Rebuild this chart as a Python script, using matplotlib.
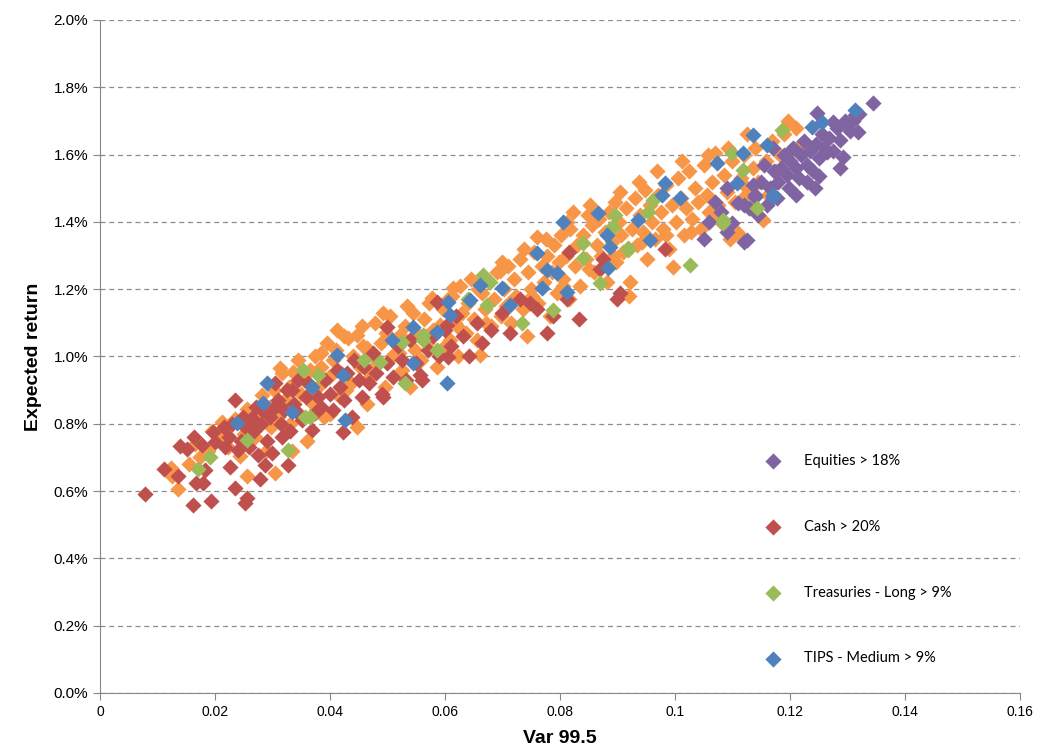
import matplotlib.pyplot as plt
from matplotlib.ticker import FuncFormatter

# Var 99.5 (x) and expected return in % (y)
others = [
    (0.0123, 0.67), (0.0125, 0.645), (0.0136, 0.605), (0.0155, 0.68), (0.0174, 0.70), (0.0165, 0.74), (0.0188, 0.72), (0.0195, 0.78),
    (0.0209, 0.76), (0.0212, 0.805), (0.0222, 0.73), (0.0235, 0.815), (0.0243, 0.705), (0.0250, 0.77), (0.0256, 0.845), (0.0256, 0.645),
    (0.0262, 0.80), (0.0270, 0.76), (0.0278, 0.83), (0.0282, 0.885), (0.0288, 0.72), (0.0295, 0.85), (0.0298, 0.79),
    (0.0302, 0.90), (0.0304, 0.655), (0.0310, 0.82), (0.0313, 0.965), (0.0317, 0.95), (0.0322, 0.87), (0.0328, 0.91), (0.0334, 0.72),
    (0.0336, 0.955), (0.0340, 0.84), (0.0345, 0.99), (0.0350, 0.89), (0.0355, 0.93), (0.0360, 0.75), (0.0365, 0.96), (0.0370, 0.86),
    (0.0374, 1.00), (0.0380, 0.91), (0.0385, 0.97), (0.0390, 0.82), (0.0395, 1.04), (0.0398, 0.94),
    (0.0400, 0.83), (0.0405, 0.99), (0.0410, 1.02), (0.0417, 0.88), (0.0420, 0.95), (0.0425, 1.06), (0.0431, 1.055), (0.0436, 0.92),
    (0.0440, 1.00), (0.0447, 1.065), (0.0447, 0.79), (0.0452, 0.97), (0.0458, 1.03), (0.0464, 1.025), (0.0464, 0.86), (0.0470, 0.94),
    (0.0478, 1.10), (0.0482, 0.99), (0.0488, 1.04), (0.0495, 0.91), (0.0498, 1.07),
    (0.0504, 1.12), (0.0508, 1.00), (0.0515, 1.05), (0.0522, 1.065), (0.0526, 0.96), (0.0530, 1.09), (0.0539, 0.91), (0.0544, 1.13),
    (0.0548, 1.02), (0.0552, 1.07), (0.0558, 0.99), (0.0563, 1.11), (0.0568, 1.04), (0.0577, 1.175), (0.0580, 1.08), (0.0586, 0.97),
    (0.0591, 1.095), (0.0596, 1.14),
    (0.0600, 1.03), (0.0605, 1.17), (0.0609, 1.05), (0.0614, 1.205), (0.0618, 1.10), (0.0622, 1.00), (0.0626, 1.21), (0.0630, 1.13),
    (0.0636, 1.07), (0.0640, 1.16), (0.0645, 1.23), (0.0650, 1.11), (0.0655, 1.05), (0.0661, 1.005), (0.0665, 1.19), (0.0670, 1.14),
    (0.0676, 1.22), (0.0680, 1.09), (0.0686, 1.17), (0.0690, 1.25), (0.0696, 1.255), (0.0698, 1.12),
    (0.0702, 1.20), (0.0706, 1.15), (0.0710, 1.27), (0.0715, 1.10), (0.0720, 1.23), (0.0724, 1.18), (0.0730, 1.29), (0.0735, 1.14),
    (0.0742, 1.06), (0.0745, 1.25), (0.0750, 1.20), (0.0755, 1.31), (0.0760, 1.355), (0.0762, 1.16), (0.0768, 1.27), (0.0772, 1.22),
    (0.0778, 1.30), (0.0782, 1.12), (0.0786, 1.25), (0.0790, 1.33), (0.0795, 1.19), (0.0798, 1.28),
    (0.0802, 1.36), (0.0806, 1.23), (0.0810, 1.30), (0.0815, 1.17), (0.0818, 1.38), (0.0823, 1.43), (0.0826, 1.27), (0.0830, 1.33),
    (0.0835, 1.21), (0.0840, 1.36), (0.0845, 1.29), (0.0852, 1.45), (0.0855, 1.39), (0.0860, 1.25), (0.0864, 1.33), (0.0868, 1.41),
    (0.0872, 1.30), (0.0878, 1.37), (0.0882, 1.22), (0.0886, 1.43), (0.0890, 1.34), (0.0896, 1.46), (0.0898, 1.28),
    (0.0902, 1.40), (0.0906, 1.36), (0.0910, 1.31), (0.0915, 1.44), (0.0920, 1.18), (0.0922, 1.22), (0.0926, 1.38), (0.0930, 1.47),
    (0.0934, 1.33), (0.0940, 1.42), (0.0945, 1.37), (0.0948, 1.495), (0.0952, 1.29), (0.0956, 1.45), (0.0960, 1.40), (0.0965, 1.35),
    (0.0970, 1.48), (0.0975, 1.43), (0.0980, 1.38), (0.0985, 1.51), (0.0990, 1.32), (0.0997, 1.265), (0.0995, 1.45),
    (0.1002, 1.40), (0.1006, 1.53), (0.1010, 1.47), (0.1015, 1.36), (0.1020, 1.44), (0.1025, 1.55), (0.1030, 1.41), (0.1035, 1.50),
    (0.1040, 1.46), (0.1045, 1.38), (0.1050, 1.57), (0.1055, 1.48), (0.1060, 1.43), (0.1065, 1.52), (0.1070, 1.605), (0.1075, 1.45),
    (0.1080, 1.40), (0.1085, 1.54), (0.1090, 1.49), (0.1095, 1.35),
    (0.1100, 1.58), (0.1105, 1.46), (0.1110, 1.367), (0.1115, 1.53), (0.1120, 1.60), (0.1125, 1.50), (0.1130, 1.44), (0.1135, 1.56),
    (0.1140, 1.62), (0.1145, 1.52), (0.1153, 1.406), (0.1158, 1.58), (0.1162, 1.48), (0.1168, 1.64), (0.1175, 1.55), (0.1182, 1.60),
    (0.1190, 1.66), (0.1197, 1.70), (0.1200, 1.61), (0.1210, 1.68), (0.1220, 1.63),
    (0.0385, 1.01), (0.0412, 1.08), (0.0455, 1.09), (0.0492, 1.13), (0.0534, 1.15), (0.0572, 1.16), (0.0612, 1.18),
    (0.0658, 1.20), (0.0700, 1.28), (0.0738, 1.32), (0.0775, 1.35), (0.0812, 1.40), (0.0848, 1.42), (0.0905, 1.49),
    (0.0938, 1.52), (0.0968, 1.55), (0.1012, 1.58), (0.1058, 1.60), (0.1092, 1.62), (0.1125, 1.66),
    (0.0330, 0.80), (0.0375, 0.84), (0.0428, 0.90), (0.0472, 0.96), (0.0520, 1.01), (0.0565, 1.06), (0.0628, 1.08),
    (0.0672, 1.10), (0.0712, 1.16), (0.0752, 1.18), (0.0805, 1.21), (0.0850, 1.26), (0.0892, 1.30), (0.0942, 1.34),
    (0.0985, 1.36), (0.1028, 1.37), (0.1072, 1.42), (0.1118, 1.47),
]

equities = [
    (0.1344, 1.753), (0.1313, 1.718), (0.1318, 1.667), (0.1287, 1.643), (0.1247, 1.724), (0.1292, 1.593), (0.1287, 1.560),
    (0.1275, 1.697), (0.1300, 1.69), (0.1243, 1.501), (0.1264, 1.608), (0.1160, 1.45), (0.1125, 1.346), (0.1090, 1.37),
    (0.1100, 1.397), (0.1120, 1.45), (0.1140, 1.48), (0.1120, 1.34), (0.1140, 1.474), (0.1110, 1.456), (0.1090, 1.50),
    (0.1170, 1.62), (0.1180, 1.52), (0.1185, 1.56), (0.1190, 1.60), (0.1195, 1.54), (0.1200, 1.58), (0.1205, 1.62),
    (0.1210, 1.56), (0.1215, 1.53), (0.1220, 1.60), (0.1225, 1.64), (0.1230, 1.57), (0.1235, 1.61), (0.1240, 1.55),
    (0.1245, 1.63), (0.1250, 1.59), (0.1255, 1.66), (0.1260, 1.62), (0.1268, 1.65), (0.1275, 1.61), (0.1282, 1.68),
    (0.1295, 1.70), (0.1305, 1.67), (0.1310, 1.70), (0.1320, 1.72), (0.1150, 1.52), (0.1155, 1.57), (0.1165, 1.50),
    (0.1172, 1.55), (0.1135, 1.51), (0.1128, 1.44), (0.1145, 1.42), (0.1178, 1.47), (0.1198, 1.50), (0.1210, 1.48),
    (0.1230, 1.52), (0.1250, 1.535), (0.1080, 1.43), (0.1060, 1.40), (0.1070, 1.46), (0.1050, 1.35),
]

cash = [
    (0.0078, 0.591), (0.0111, 0.666), (0.0136, 0.645), (0.0139, 0.734), (0.0151, 0.725), (0.0163, 0.761), (0.0177, 0.737),
    (0.0162, 0.559), (0.0193, 0.571), (0.0167, 0.624), (0.0180, 0.624), (0.0183, 0.663), (0.0197, 0.776), (0.0200, 0.746),
    (0.0226, 0.672), (0.0235, 0.609), (0.0256, 0.579), (0.0252, 0.565), (0.0235, 0.871), (0.0278, 0.636), (0.0252, 0.790),
    (0.0275, 0.707), (0.0287, 0.678), (0.0299, 0.713), (0.0264, 0.817), (0.0282, 0.841), (0.0317, 0.761), (0.0327, 0.678),
    (0.0304, 0.850), (0.0345, 0.832), (0.0334, 0.900), (0.0374, 0.832), (0.0368, 0.782), (0.0379, 0.880), (0.0304, 0.921),
    (0.0345, 0.930), (0.0217, 0.731), (0.0240, 0.722),
    (0.0215, 0.79), (0.0225, 0.76), (0.0230, 0.80), (0.0245, 0.75), (0.0248, 0.82), (0.0260, 0.73), (0.0268, 0.78),
    (0.0272, 0.85), (0.0280, 0.80), (0.0290, 0.75), (0.0295, 0.82), (0.0310, 0.87), (0.0315, 0.80), (0.0320, 0.84),
    (0.0325, 0.90), (0.0330, 0.78), (0.0338, 0.86), (0.0352, 0.81), (0.0358, 0.88), (0.0362, 0.92), (0.0385, 0.85),
    (0.0392, 0.93), (0.0400, 0.89), (0.0405, 0.84), (0.0412, 0.96), (0.0418, 0.91), (0.0425, 0.87), (0.0430, 0.95),
    (0.0438, 0.82), (0.0442, 0.99), (0.0450, 0.93), (0.0455, 0.88), (0.0460, 0.97), (0.0468, 0.92), (0.0475, 1.01),
    (0.0480, 0.95), (0.0490, 0.89), (0.0500, 0.98), (0.0510, 0.94), (0.0518, 1.03), (0.0525, 0.99), (0.0532, 0.93),
    (0.0540, 1.05), (0.0550, 0.98), (0.0560, 0.93), (0.0570, 1.02), (0.0580, 1.06), (0.0590, 1.00), (0.0600, 1.08),
    (0.0610, 1.03), (0.0620, 1.12), (0.0632, 1.06), (0.0642, 1.00), (0.0655, 1.10), (0.0665, 1.04), (0.0680, 1.08),
    (0.0700, 1.13), (0.0713, 1.07), (0.0730, 1.17), (0.0748, 1.16), (0.0760, 1.14), (0.0777, 1.07), (0.0788, 1.12),
    (0.0812, 1.17), (0.0815, 1.31), (0.0833, 1.11), (0.0870, 1.26), (0.0875, 1.29), (0.0900, 1.17), (0.0905, 1.19),
    (0.0983, 1.32), (0.0499, 1.088), (0.0586, 1.162), (0.0603, 1.094), (0.0605, 0.999), (0.0557, 0.945), (0.0492, 0.88),
    (0.0423, 0.776),
]

treasuries = [
    (0.0191, 0.701), (0.0170, 0.666), (0.0256, 0.752), (0.0327, 0.722), (0.0357, 0.820), (0.0379, 0.945), (0.0353, 0.96),
    (0.0487, 0.984), (0.0525, 1.043), (0.0562, 1.064), (0.0586, 1.019), (0.0530, 0.921), (0.0365, 0.82), (0.0666, 1.242),
    (0.0678, 1.221), (0.0673, 1.153), (0.0734, 1.10), (0.0788, 1.138), (0.0840, 1.337), (0.0840, 1.293), (0.0870, 1.218),
    (0.0890, 1.385), (0.0896, 1.42), (0.0918, 1.316), (0.0562, 1.049), (0.1100, 1.605), (0.1186, 1.673), (0.0962, 1.465),
    (0.0892, 1.385), (0.0953, 1.43), (0.1026, 1.272), (0.1083, 1.406), (0.1118, 1.554), (0.1143, 1.44), (0.0918, 1.322),
    (0.1083, 1.397), (0.0460, 0.99), (0.0640, 1.17),
]

tips = [
    (0.0290, 0.921), (0.0284, 0.862), (0.0238, 0.802), (0.0334, 0.835), (0.0368, 0.909), (0.0412, 1.004), (0.0423, 0.945),
    (0.0508, 1.049), (0.0544, 1.088), (0.0586, 1.073), (0.0605, 1.162), (0.0544, 0.981), (0.0603, 0.921), (0.0426, 0.811),
    (0.0805, 1.40), (0.0760, 1.308), (0.0777, 1.257), (0.0795, 1.248), (0.0866, 1.426), (0.0882, 1.361), (0.0887, 1.325),
    (0.0884, 1.263), (0.0769, 1.203), (0.0699, 1.203), (0.0661, 1.212), (0.0713, 1.153), (0.0643, 1.167), (0.0609, 1.123),
    (0.0812, 1.192), (0.1136, 1.658), (0.1118, 1.605), (0.1073, 1.575), (0.0983, 1.516), (0.0977, 1.48), (0.1009, 1.471),
    (0.0936, 1.406), (0.0957, 1.346), (0.1108, 1.516), (0.1170, 1.48), (0.1160, 1.628), (0.1313, 1.733), (0.1256, 1.697),
    (0.1238, 1.682), (0.1170, 1.474),
]

labels = ['Equities > 18%', 'Cash > 20%', 'Treasuries - Long > 9%', 'TIPS - Medium > 9%']
colors = ['#8064A2', '#C0504D', '#9BBB59', '#4F81BD']

fig = plt.figure(figsize=(10.46, 7.49), dpi=100)
ax = fig.add_axes([0.0956, 0.0748, 0.8795, 0.8985])

# unflagged portfolios first, then the highlighted groups on top
ax.scatter([p[0] for p in others], [p[1] for p in others], marker='D', s=68, color='#F79646', linewidths=0, zorder=2)
handles = []
for pts, lab, col in zip([equities, cash, treasuries, tips], labels, colors):
    h = ax.scatter([p[0] for p in pts], [p[1] for p in pts], marker='D', s=68, color=col, linewidths=0, zorder=3, label=lab)
    handles.append(h)

ax.set_xlim(0, 0.16)
ax.set_ylim(0, 2.0)
ax.set_xticks([i * 0.02 for i in range(9)])
ax.set_yticks([i * 0.2 for i in range(11)])
ax.xaxis.set_major_formatter(FuncFormatter(lambda v, p: '0' if v == 0 else ('%.2f' % v).rstrip('0')))
ax.yaxis.set_major_formatter(FuncFormatter(lambda v, p: '%.1f%%' % v))

ax.grid(axis='y', color='#8c8c8c', linestyle=(0, (4, 3)), linewidth=0.9)
ax.set_axisbelow(True)
for s in ['top', 'right']:
    ax.spines[s].set_visible(False)
for s in ['left', 'bottom']:
    ax.spines[s].set_color('#868686')
ax.tick_params(axis='both', color='#868686', length=5, direction='out')
for t in ax.get_yticklabels():
    t.set_fontfamily(['Liberation Sans', 'DejaVu Sans'])
    t.set_fontsize(11)
for t in ax.get_xticklabels():
    t.set_fontfamily(['Liberation Sans Narrow', 'Liberation Sans', 'DejaVu Sans'])
    t.set_fontsize(10)

ax.set_xlabel('Var 99.5', fontsize=14, fontweight='bold', family=['Liberation Sans Narrow', 'Liberation Sans', 'DejaVu Sans'], labelpad=8)
ax.set_ylabel('Expected return', fontsize=14, fontweight='bold', family=['Liberation Sans Narrow', 'Liberation Sans', 'DejaVu Sans'], labelpad=8)

ax.legend(handles=handles, loc='center left', bbox_to_anchor=(0.716, 0.198), frameon=False,
          scatterpoints=1, handlelength=1.0, handletextpad=1.6, labelspacing=3.55, borderpad=0,
          prop={'family': ['Lato', 'DejaVu Sans'], 'size': 10.5})

fig.savefig('out.png', dpi=100)
